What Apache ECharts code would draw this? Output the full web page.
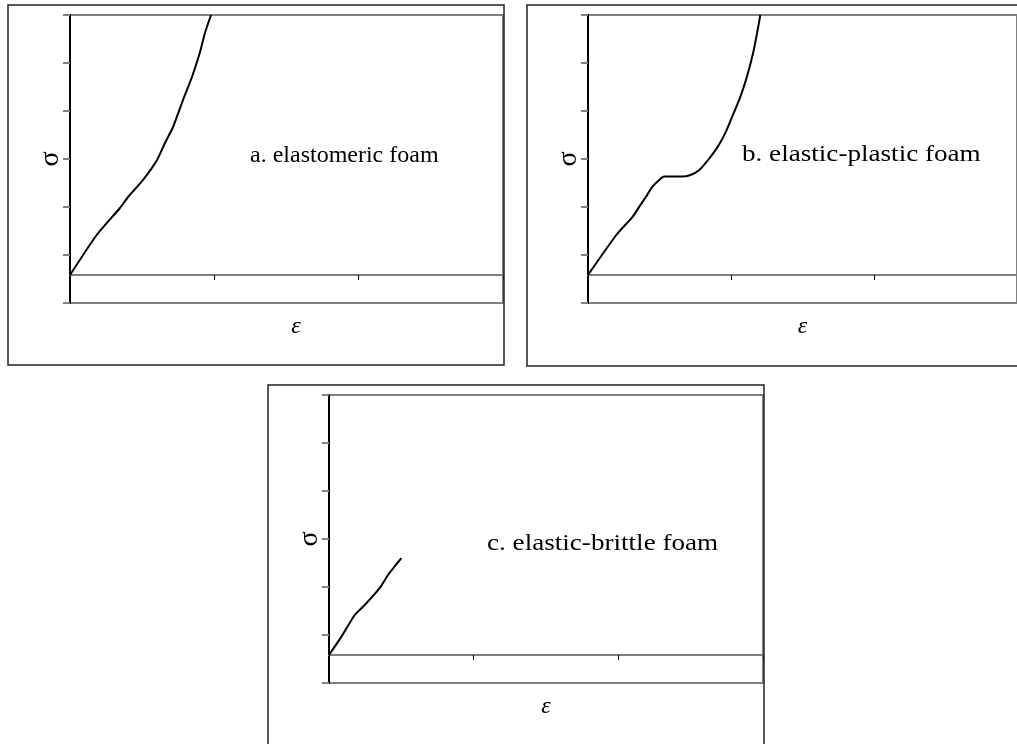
<!DOCTYPE html>
<html>
<head>
<meta charset="utf-8">
<title>Foam stress-strain curves</title>
<script src="https://cdn.jsdelivr.net/npm/echarts@6/dist/echarts.min.js"></script>
<style>
  html, body { margin: 0; padding: 0; background: #fff; }
  #chart { width: 1017px; height: 744px; }
</style>
</head>
<body>
<div id="chart"></div>
<script>
// Strain (ε) and stress (σ) samples for the three foam types
const strainA = [0, 0.185, 0.346, 0.402, 0.506, 0.603, 0.658, 0.714, 0.783, 0.845, 0.901, 0.935, 0.977];
const stressA = [0, 10, 16.75, 19.5, 23.75, 28.75, 33, 37, 43.75, 49.5, 55.75, 60.5, 65];

const strainB = [0, 0.198, 0.313, 0.359, 0.406, 0.451, 0.498, 0.532, 0.659, 0.717, 0.774, 0.843, 0.908, 0.959, 1.004, 1.062, 1.108, 1.154, 1.182, 1.205];
const stressB = [0, 10, 14.6, 17.1, 19.6, 22.1, 23.75, 24.6, 24.6, 25, 26.1, 28.9, 32.1, 35.4, 39.2, 44.2, 49.2, 55.4, 60.4, 65];

const strainC = [0, 0.086, 0.178, 0.247, 0.35, 0.408, 0.5];
const stressC = [0, 4.6, 10, 12.5, 16.7, 20, 24.2];

// Axis ranges and tick positions
const strainTicks = { min: 0, max: 3, interval: 1 };
const stressRange = { min: -7, max: 65 };
const stressTicks = [-7, 5, 17, 29, 41, 53, 65];

const panelLabels = ['a. elastomeric foam', 'b. elastic-plastic foam', 'c. elastic-brittle foam'];
const strainName = 'ε';
const stressName = 'σ';

const panels = [
  { x: strainA, y: stressA, grid: { left: 70, top: 15, width: 433, height: 288 },
    frame: { x: 8, y: 5, width: 496, height: 360 }, label: { x: 250, y: 156, sx: 1.0 }, epsPad: 19 },
  { x: strainB, y: stressB, grid: { left: 588, top: 15, width: 434, height: 288 },
    frame: { x: 527, y: 5, width: 510, height: 361 }, label: { x: 742, y: 155, sx: 1.13 }, epsPad: 0 },
  { x: strainC, y: stressC, grid: { left: 329, top: 395, width: 434, height: 288 },
    frame: { x: 268, y: 385, width: 496, height: 380 }, label: { x: 487, y: 544, sx: 1.13 }, epsPad: 0 }
];

const serif = '"Liberation Serif", "DejaVu Serif", serif';

const option = {
  backgroundColor: '#ffffff',
  animation: false,
  grid: panels.map(p => Object.assign({
    show: true, borderColor: '#808080', borderWidth: 2, backgroundColor: 'transparent'
  }, p.grid)),
  xAxis: panels.map((p, i) => ({
    type: 'value', gridIndex: i,
    min: strainTicks.min, max: strainTicks.max, interval: strainTicks.interval,
    axisLine: { show: true, onZero: true, lineStyle: { color: '#808080', width: 2 } },
    axisTick: { show: true, inside: false, length: 5, lineStyle: { color: '#000', width: 1 } },
    axisLabel: { show: false },
    splitLine: { show: false },
    name: strainName, nameLocation: 'middle', nameGap: 12,
    nameTextStyle: { fontFamily: serif, fontStyle: 'italic', fontSize: 24, color: '#000',
      padding: [0, 0, 0, p.epsPad] }
  })),
  yAxis: panels.map((p, i) => ({
    type: 'value', gridIndex: i,
    min: stressRange.min, max: stressRange.max,
    axisLine: { show: true, onZero: false, lineStyle: { color: '#000', width: 2 } },
    axisTick: { show: true, inside: false, length: 7, customValues: stressTicks,
      lineStyle: { color: '#808080', width: 2 } },
    axisLabel: { show: false },
    splitLine: { show: false },
    name: stressName, nameLocation: 'middle', nameRotate: 90, nameGap: 5,
    nameTextStyle: { fontFamily: serif, fontSize: 28, color: '#000' }
  })),
  series: panels.map((p, i) => ({
    type: 'line', xAxisIndex: i, yAxisIndex: i,
    data: p.x.map((v, k) => [v, p.y[k]]),
    showSymbol: false, smooth: 0.2,
    lineStyle: { color: '#000', width: 2 },
    clip: true
  })),
  graphic: panels.flatMap((p, i) => [
    { type: 'rect', silent: true, z: 10,
      shape: p.frame,
      style: { fill: null, stroke: '#222', lineWidth: 1.5 } },
    { type: 'text', silent: true, z: 10,
      x: p.label.x, y: p.label.y, scaleX: p.label.sx,
      style: { text: panelLabels[i], font: '24px ' + serif, fill: '#000',
        align: 'left', verticalAlign: 'middle' } }
  ])
};

const chart = echarts.init(document.getElementById('chart'), null, { renderer: 'canvas' });
chart.setOption(option);
</script>
</body>
</html>
